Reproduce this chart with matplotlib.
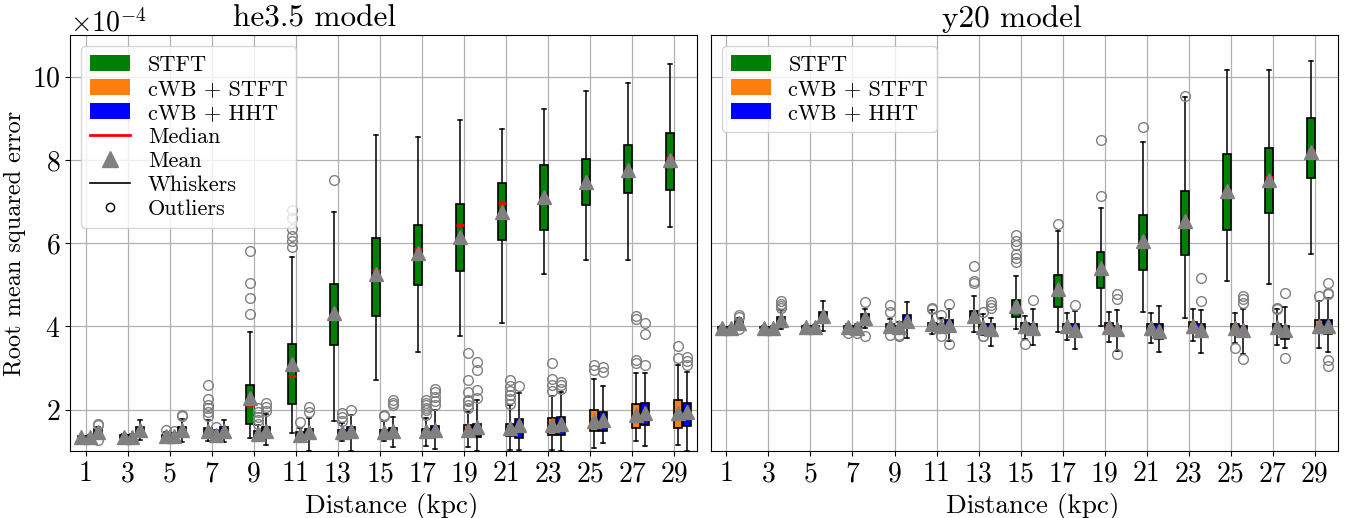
import numpy as np
import matplotlib
matplotlib.use("Agg")
import matplotlib.pyplot as plt
from matplotlib.patches import Patch
from matplotlib.lines import Line2D

plt.rcParams['font.family'] = 'serif'
plt.rcParams['font.serif'] = ['cmr10']
plt.rcParams['mathtext.fontset'] = 'cm'
plt.rcParams['axes.formatter.use_mathtext'] = True

distances = [1, 3, 5, 7, 9, 11, 13, 15, 17, 19, 21, 23, 25, 27, 29]
methods = ['STFT', 'cWB + STFT', 'cWB + HHT']
colors = ['green', '#ff7f0e', 'blue']

# ---- he3.5 model (values in units of 1e-4) ----
he_stft_q1 = [1.30, 1.32, 1.33, 1.38, 1.66, 2.14, 3.55, 4.25, 4.99, 5.32, 6.07, 6.32, 6.92, 7.20, 7.29]
he_stft_med = [1.33, 1.35, 1.36, 1.46, 2.10, 2.80, 4.30, 5.35, 5.87, 6.43, 6.96, 7.12, 7.48, 7.77, 8.08]
he_stft_q3 = [1.36, 1.38, 1.40, 1.56, 2.60, 3.58, 5.03, 6.13, 6.44, 6.94, 7.44, 7.88, 8.02, 8.35, 8.66]
he_stft_mean = [1.34, 1.35, 1.37, 1.48, 2.28, 3.10, 4.33, 5.25, 5.76, 6.15, 6.75, 7.10, 7.46, 7.75, 8.00]
he_stft_lo = [1.27, 1.29, 1.30, 1.25, 1.32, 1.44, 1.72, 2.70, 3.39, 3.78, 4.09, 5.25, 5.60, 5.59, 6.40]
he_stft_hi = [1.39, 1.42, 1.45, 1.75, 3.87, 5.68, 6.75, 8.60, 8.55, 8.96, 8.75, 9.23, 9.65, 9.85, 10.32]
he_stft_fl = [[], [], [1.52], [1.85, 1.95, 2.05, 2.12, 2.25, 2.58], [4.29, 4.68, 5.05, 5.81],
              [5.92, 6.06, 6.18, 6.34, 6.6, 6.8], [7.52], [], [], [], [], [], [], [], []]

he_cwbs_q1 = [1.30, 1.32, 1.33, 1.34, 1.33, 1.34, 1.36, 1.38, 1.34, 1.36, 1.37, 1.38, 1.48, 1.56, 1.56]
he_cwbs_med = [1.33, 1.35, 1.36, 1.38, 1.40, 1.38, 1.42, 1.43, 1.45, 1.41, 1.47, 1.55, 1.64, 1.74, 1.80]
he_cwbs_q3 = [1.36, 1.38, 1.40, 1.44, 1.48, 1.45, 1.50, 1.52, 1.54, 1.62, 1.66, 1.80, 2.00, 2.14, 2.22]
he_cwbs_mean = [1.34, 1.35, 1.37, 1.40, 1.42, 1.40, 1.45, 1.46, 1.48, 1.52, 1.55, 1.62, 1.72, 1.88, 1.92]
he_cwbs_lo = [1.27, 1.29, 1.28, 1.25, 1.24, 1.28, 1.25, 1.25, 1.12, 1.10, 1.04, 1.04, 1.08, 1.24, 1.16]
he_cwbs_hi = [1.39, 1.42, 1.44, 1.52, 1.62, 1.55, 1.68, 1.72, 1.80, 1.94, 2.10, 2.32, 2.74, 2.87, 3.06]
he_cwbs_fl = [[], [], [1.48], [1.58], [1.66, 1.75, 1.83, 1.93, 2.05], [1.70], [1.72, 1.82, 1.92],
              [1.85, 1.88], [1.88, 1.98, 2.05, 2.1, 2.15, 2.22], [2.05, 2.1, 2.2, 2.22, 2.42, 2.71, 3.37],
              [2.14, 2.25, 2.36, 2.45, 2.56, 2.72], [2.44, 2.58, 2.74, 3.11], [2.94, 3.06],
              [3.12, 3.19, 4.18, 4.25], [3.25, 3.53]]

he_cwbh_q1 = [1.38, 1.40, 1.40, 1.38, 1.36, 1.29, 1.33, 1.35, 1.34, 1.34, 1.32, 1.38, 1.49, 1.62, 1.60]
he_cwbh_med = [1.46, 1.50, 1.50, 1.48, 1.45, 1.40, 1.45, 1.45, 1.47, 1.50, 1.55, 1.60, 1.70, 1.80, 1.85]
he_cwbh_q3 = [1.53, 1.58, 1.58, 1.58, 1.57, 1.53, 1.58, 1.56, 1.60, 1.66, 1.78, 1.82, 1.94, 2.16, 2.16]
he_cwbh_mean = [1.47, 1.50, 1.50, 1.48, 1.48, 1.46, 1.48, 1.48, 1.52, 1.58, 1.62, 1.66, 1.76, 1.92, 1.95]
he_cwbh_lo = [1.32, 1.28, 1.22, 1.22, 1.14, 1.00, 1.00, 1.10, 1.06, 1.00, 1.04, 1.00, 1.20, 1.12, 1.00]
he_cwbh_hi = [1.58, 1.75, 1.78, 1.75, 1.90, 1.80, 1.88, 1.82, 1.98, 2.24, 2.40, 2.42, 2.56, 2.88, 2.90]
he_cwbh_fl = [[1.27, 1.63, 1.66], [], [1.85, 1.88], [], [1.96, 2.06, 2.17], [1.94, 2.06], [2.0],
              [2.1, 2.17, 2.22], [2.1, 2.2, 2.3, 2.42, 2.5], [2.28, 2.48, 2.95, 3.14], [2.56],
              [2.5, 2.58, 2.67], [2.91, 3.02], [3.06, 3.81, 4.09], [3.06, 3.17, 3.27]]

# ---- y20 model ----
y_stft_q1 = [3.94, 3.95, 3.96, 3.94, 3.96, 3.98, 4.10, 4.22, 4.47, 4.92, 5.36, 5.72, 6.32, 6.72, 7.56]
y_stft_med = [3.96, 3.97, 3.98, 3.98, 4.00, 4.03, 4.22, 4.40, 4.80, 5.40, 6.05, 6.40, 7.28, 7.58, 8.23]
y_stft_q3 = [3.98, 3.99, 4.00, 4.01, 4.05, 4.08, 4.37, 4.63, 5.24, 5.80, 6.67, 7.25, 8.14, 8.29, 9.00]
y_stft_mean = [3.96, 3.97, 3.98, 3.98, 4.02, 4.05, 4.25, 4.50, 4.91, 5.41, 6.05, 6.54, 7.25, 7.52, 8.20]
y_stft_lo = [3.92, 3.93, 3.92, 3.90, 3.88, 3.82, 3.86, 3.93, 3.87, 4.01, 4.34, 4.21, 5.08, 5.03, 5.73]
y_stft_hi = [4.00, 4.01, 4.04, 4.05, 4.18, 4.40, 4.73, 5.20, 6.30, 6.84, 8.44, 9.51, 10.17, 10.17, 10.39]
y_stft_fl = [[], [], [], [3.83], [3.79, 4.35, 4.51], [4.42, 4.45], [5.05, 5.1, 5.45],
             [5.55, 5.65, 5.75, 5.95, 6.05, 6.2], [6.47], [7.14, 8.49], [8.8], [9.54], [], [], []]

y_cwbs_q1 = [3.94, 3.95, 3.96, 3.94, 3.93, 3.95, 3.89, 3.93, 3.93, 3.87, 3.85, 3.93, 3.85, 3.85, 3.85]
y_cwbs_med = [3.96, 3.97, 3.98, 3.97, 3.97, 4.00, 3.97, 4.00, 4.00, 3.98, 3.97, 4.02, 3.97, 3.97, 4.00]
y_cwbs_q3 = [3.98, 3.99, 4.00, 4.00, 4.02, 4.05, 4.06, 4.07, 4.06, 4.09, 4.06, 4.10, 4.06, 4.06, 4.15]
y_cwbs_mean = [3.96, 3.97, 3.98, 3.97, 3.98, 4.00, 3.98, 4.00, 4.00, 3.98, 3.97, 4.01, 3.97, 3.98, 4.00]
y_cwbs_lo = [3.92, 3.93, 3.92, 3.90, 3.85, 3.85, 3.80, 3.70, 3.67, 3.63, 3.61, 3.65, 3.61, 3.55, 3.47]
y_cwbs_hi = [4.00, 4.01, 4.04, 4.05, 4.10, 4.20, 4.29, 4.25, 4.33, 4.35, 4.31, 4.43, 4.33, 4.41, 4.61]
y_cwbs_fl = [[], [], [], [3.83], [3.78, 3.8], [4.27, 3.77], [3.76, 3.78, 4.35], [3.57], [], [], [], [],
             [3.49], [4.43, 4.45], [4.73]]

y_cwbh_q1 = [4.00, 4.07, 4.13, 4.10, 4.00, 3.93, 3.81, 3.81, 3.75, 3.77, 3.69, 3.74, 3.74, 3.70, 3.81]
y_cwbh_med = [4.08, 4.14, 4.22, 4.20, 4.12, 4.03, 3.92, 3.95, 3.92, 3.92, 3.92, 3.92, 3.92, 3.90, 4.00]
y_cwbh_q3 = [4.15, 4.22, 4.34, 4.29, 4.27, 4.15, 4.06, 4.05, 4.05, 4.02, 4.06, 4.06, 4.02, 4.02, 4.15]
y_cwbh_mean = [4.08, 4.15, 4.24, 4.20, 4.14, 4.04, 3.93, 3.95, 3.92, 3.93, 3.90, 3.92, 3.92, 3.91, 4.00]
y_cwbh_lo = [3.96, 3.93, 3.89, 3.95, 3.73, 3.65, 3.54, 3.55, 3.46, 3.40, 3.39, 3.37, 3.33, 3.49, 3.38]
y_cwbh_hi = [4.20, 4.40, 4.61, 4.43, 4.59, 4.41, 4.21, 4.43, 4.37, 4.39, 4.49, 4.39, 4.41, 4.47, 4.69]
y_cwbh_fl = [[3.93, 4.23, 4.27], [4.45, 4.5, 4.55, 4.6], [], [3.78, 4.59], [], [3.58, 4.53],
             [4.45, 4.52, 4.58], [4.63], [4.51], [3.33, 4.65, 4.77], [], [4.6, 5.17],
             [3.22, 4.57, 4.65, 4.73], [3.25, 4.81], [3.04, 3.2, 4.77, 4.81, 5.05]]

SCALE = 1e-4


def make_stats(q1, med, q3, mean, lo, hi, fl):
    stats = []
    for i in range(len(q1)):
        stats.append({
            'q1': q1[i] * SCALE, 'med': med[i] * SCALE, 'q3': q3[i] * SCALE,
            'mean': mean[i] * SCALE, 'whislo': lo[i] * SCALE, 'whishi': hi[i] * SCALE,
            'fliers': np.array(fl[i]) * SCALE,
        })
    return stats


he_groups = [
    make_stats(he_stft_q1, he_stft_med, he_stft_q3, he_stft_mean, he_stft_lo, he_stft_hi, he_stft_fl),
    make_stats(he_cwbs_q1, he_cwbs_med, he_cwbs_q3, he_cwbs_mean, he_cwbs_lo, he_cwbs_hi, he_cwbs_fl),
    make_stats(he_cwbh_q1, he_cwbh_med, he_cwbh_q3, he_cwbh_mean, he_cwbh_lo, he_cwbh_hi, he_cwbh_fl),
]
y_groups = [
    make_stats(y_stft_q1, y_stft_med, y_stft_q3, y_stft_mean, y_stft_lo, y_stft_hi, y_stft_fl),
    make_stats(y_cwbs_q1, y_cwbs_med, y_cwbs_q3, y_cwbs_mean, y_cwbs_lo, y_cwbs_hi, y_cwbs_fl),
    make_stats(y_cwbh_q1, y_cwbh_med, y_cwbh_q3, y_cwbh_mean, y_cwbh_lo, y_cwbh_hi, y_cwbh_fl),
]

offsets = [-0.2, 0.2, 0.6]

fig, axes = plt.subplots(1, 2, figsize=(13.58, 5.18), dpi=100, sharey=True)
fig.subplots_adjust(left=0.0515, right=0.9853, bottom=0.129, top=0.932, wspace=0.021)


def draw_panel(ax, groups, title, title_x):
    for stats, off, col in zip(groups, offsets, colors):
        pos = [d + off for d in distances]
        bp = ax.bxp(stats, positions=pos, widths=0.38, patch_artist=True, showmeans=True,
                    manage_ticks=False,
                    boxprops=dict(edgecolor='black', linewidth=1.2),
                    medianprops=dict(color='red', linewidth=2),
                    meanprops=dict(marker='^', markerfacecolor='gray', markeredgecolor='gray',
                                   markersize=10),
                    flierprops=dict(marker='o', markerfacecolor='none', markeredgecolor='gray',
                                    markersize=7),
                    whiskerprops=dict(color='black', linewidth=1.1),
                    capprops=dict(color='black', linewidth=1.1))
        for box in bp['boxes']:
            box.set_facecolor(col)
    ax.set_xticks(distances)
    ax.set_xticklabels([str(d) for d in distances])
    ax.set_xlim(0.25, 30.1)
    ax.grid(True, color='#b0b0b0', linewidth=0.9)
    ax.set_axisbelow(True)
    ax.set_title(title, fontsize=22.5, x=title_x)
    ax.set_xlabel('Distance (kpc)', fontsize=19.5, x=0.513)
    ax.tick_params(labelsize=20)


draw_panel(axes[0], he_groups, 'he3.5 model', 0.39)
draw_panel(axes[1], y_groups, 'y20 model', 0.48)

axes[0].set_ylim(1.0e-4, 11.0e-4)
axes[0].set_yticks([2e-4, 4e-4, 6e-4, 8e-4, 10e-4])
axes[0].ticklabel_format(axis='y', style='sci', scilimits=(-4, -4), useMathText=True)
axes[0].set_ylabel('Root mean squared error', fontsize=17.5)
axes[0].yaxis.get_offset_text().set_fontsize(20)
axes[1].tick_params(axis='y', length=0, labelleft=False)

patch_handles = [Patch(facecolor=c, label=m) for c, m in zip(colors, methods)]
extra_handles = [
    Line2D([], [], color='red', linewidth=2, label='Median'),
    Line2D([], [], marker='^', color='gray', linestyle='None', markersize=11, label='Mean'),
    Line2D([], [], color='black', linewidth=1.2, label='Whiskers'),
    Line2D([], [], marker='o', markerfacecolor='none', markeredgecolor='black', linestyle='None',
           markersize=6, label='Outliers'),
]
axes[0].legend(handles=patch_handles + extra_handles, loc='upper left', fontsize=16,
               labelspacing=0.2, handlelength=1.8)
axes[1].legend(handles=patch_handles, loc='upper left', fontsize=16,
               labelspacing=0.2, handlelength=1.8)

fig.savefig('out.png', dpi=100)
